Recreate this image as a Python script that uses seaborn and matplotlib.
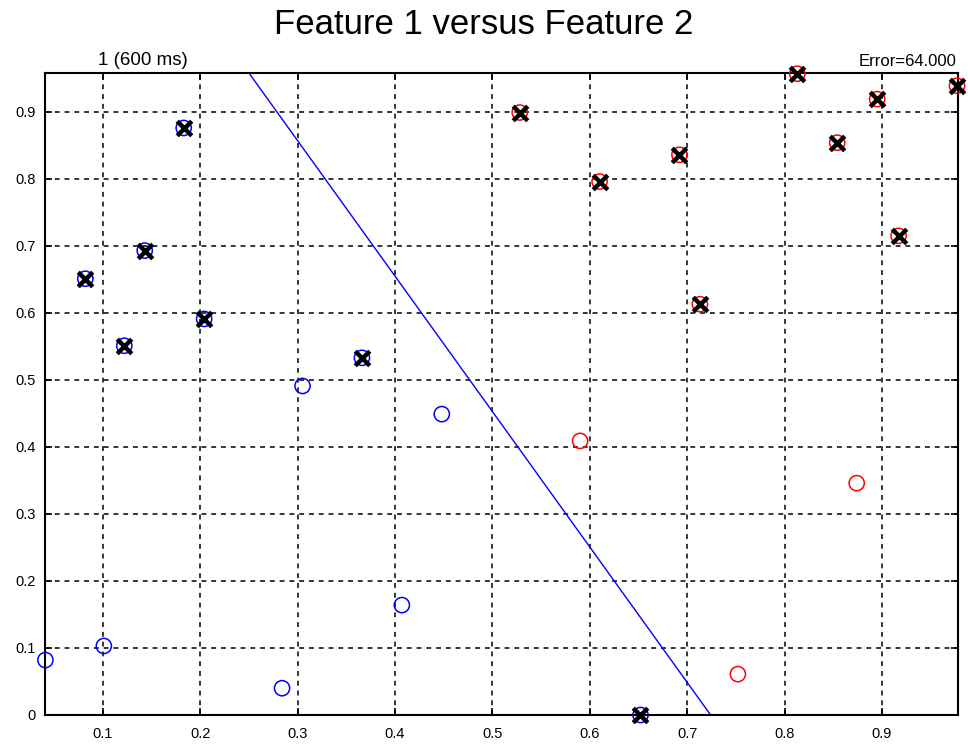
import numpy as np
import pandas as pd
import matplotlib
matplotlib.use("Agg")
import matplotlib.pyplot as plt
import seaborn as sns

# Class 1 (blue) and class 2 (red) samples
blue_x = [0.041, 0.101, 0.284, 0.305, 0.407, 0.448,
          0.082, 0.122, 0.143, 0.183, 0.204, 0.366, 0.652]
blue_y = [0.082, 0.103, 0.040, 0.491, 0.164, 0.449,
          0.651, 0.551, 0.693, 0.876, 0.591, 0.533, 0.000]
blue_marked = [0, 0, 0, 0, 0, 0, 1, 1, 1, 1, 1, 1, 1]

red_x = [0.590, 0.874, 0.752,
         0.528, 0.610, 0.692, 0.713, 0.813, 0.854, 0.895, 0.917, 0.977]
red_y = [0.409, 0.346, 0.061,
         0.899, 0.796, 0.836, 0.613, 0.957, 0.854, 0.919, 0.715, 0.939]
red_marked = [0, 0, 0, 1, 1, 1, 1, 1, 1, 1, 1, 1]

# decision boundary endpoints
line_x = [0.250, 0.724]
line_y = [0.958, 0.000]

x_ticks = [0.1, 0.2, 0.3, 0.4, 0.5, 0.6, 0.7, 0.8, 0.9]
y_ticks = [0, 0.1, 0.2, 0.3, 0.4, 0.5, 0.6, 0.7, 0.8, 0.9]

df = pd.DataFrame({
    "f1": blue_x + red_x,
    "f2": blue_y + red_y,
    "cls": ["1"] * len(blue_x) + ["2"] * len(red_x),
    "marked": blue_marked + red_marked,
})

sns.set_style("white")
plt.rcParams["font.family"] = ["Liberation Sans", "DejaVu Sans"]
plt.rcParams["text.color"] = "black"
plt.rcParams["xtick.color"] = "black"
plt.rcParams["ytick.color"] = "black"

fig = plt.figure(figsize=(9.68, 7.44), dpi=100)
ax = fig.add_axes([45 / 968, 1 - 715 / 744, 913 / 968, 642 / 744])

sns.scatterplot(data=df, x="f1", y="f2", hue="cls",
                palette={"1": "#0000ff", "2": "#ff0000"},
                marker="o", s=120, linewidth=1.1,
                legend=False, ax=ax, zorder=3, clip_on=False)
# hollow circles with coloured edges
coll = ax.collections[-1]
coll.set_edgecolors([("#0000ff" if c == "1" else "#ff0000") for c in df["cls"]])
coll.set_facecolors("none")

m = df[df["marked"] == 1]
sns.scatterplot(data=m, x="f1", y="f2", marker="x", s=110, color="black",
                linewidth=3.2, legend=False, ax=ax, zorder=4, clip_on=False)

sns.lineplot(x=line_x, y=line_y, color="#0000ff", linewidth=1.0, ax=ax,
             zorder=2)

ax.set_xlim(0.0406, 0.978)
ax.set_ylim(0, 0.958)
ax.set_xticks(x_ticks)
ax.set_yticks(y_ticks)
ax.set_xticklabels([f"{t:g}" for t in x_ticks])
ax.set_yticklabels([f"{t:g}" for t in y_ticks])
ax.tick_params(axis="both", labelsize=10.5, direction="in", length=5,
               width=1.2, top=True, right=True, bottom=True, left=True)
ax.tick_params(axis="x", pad=9)
ax.tick_params(axis="y", pad=7)
ax.grid(True, color="black", linestyle=(0, (3.2, 3.2)), linewidth=1.1)
for s in ax.spines.values():
    s.set_color("black")
    s.set_linewidth(1.5)
ax.set_xlabel("")
ax.set_ylabel("")

fig.text(0.5, 1 - 25 / 744, "Feature 1 versus Feature 2", ha="center",
         va="center", fontsize=25)
ax.text(0.107, 1.006, "1 (600 ms)", transform=ax.transAxes, ha="center",
        va="bottom", fontsize=13.5)
ax.text(0.998, 1.006, "Error=64.000", transform=ax.transAxes, ha="right",
        va="bottom", fontsize=12)

fig.savefig("out.png", dpi=100)
